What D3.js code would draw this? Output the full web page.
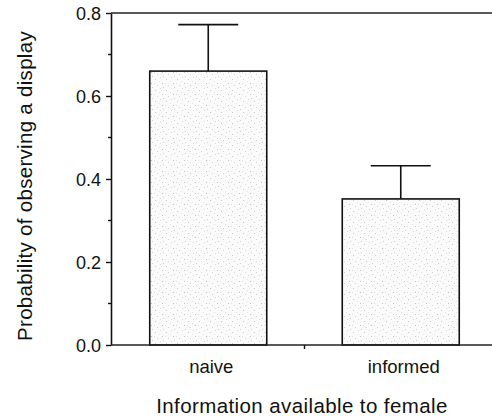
<!DOCTYPE html>
<html>
<head>
<meta charset="utf-8">
<script src="https://cdn.jsdelivr.net/npm/d3@7"></script>
<style>
  body { margin: 0; background: #fff; }
  text { font-family: "Liberation Sans", Arial, sans-serif; fill: #111; }
</style>
</head>
<body>
<svg id="chart" width="492" height="416"></svg>
<script>
'use strict';

// data
var categories = ['naive', 'informed'];
var means = [0.660, 0.352];
var errUpper = [0.772, 0.432];
var yTicks = [0.0, 0.2, 0.4, 0.6, 0.8];
var yMinorTicks = [0.1, 0.3, 0.5, 0.7];

var svg = d3.select('#chart');

var plotLeft = 111, plotRight = 497, plotTop = 13, plotBottom = 345;

var x = d3.scalePoint()
  .domain(categories)
  .range([plotLeft + 1, plotRight])
  .padding(0.5);

var y = d3.scaleLinear()
  .domain([0, 0.8])
  .range([plotBottom, plotTop]);

var barWidth = 117;
var capWidth = 60;

// stipple fill (light, sparse dots like the scan)
var defs = svg.append('defs');
var pat = defs.append('pattern')
  .attr('id', 'stipple')
  .attr('patternUnits', 'userSpaceOnUse')
  .attr('width', 11).attr('height', 11);
pat.append('rect').attr('width', 11).attr('height', 11).attr('fill', '#fafafa');
var dots = [[1, 2, '#cdcdcd'], [6, 0, '#dcdcdc'], [8, 6, '#c4c4c4'], [3, 8, '#d6d6d6'], [0, 6, '#e2e2e2'], [9, 10, '#d2d2d2'], [5, 4, '#e6e6e6']];
pat.selectAll('rect.dot').data(dots).enter().append('rect')
  .attr('class', 'dot')
  .attr('x', function(d){ return d[0]; })
  .attr('y', function(d){ return d[1]; })
  .attr('width', 1).attr('height', 1)
  .attr('fill', function(d){ return d[2]; });

// error bars (behind the bars)
var err = svg.append('g').attr('stroke', '#111').attr('stroke-width', 1.6);
categories.forEach(function(c, i){
  err.append('line')
    .attr('x1', x(c)).attr('x2', x(c))
    .attr('y1', y(means[i])).attr('y2', y(errUpper[i]));
  err.append('line')
    .attr('x1', x(c) - capWidth / 2).attr('x2', x(c) + capWidth / 2)
    .attr('y1', y(errUpper[i])).attr('y2', y(errUpper[i]));
});

// bars
svg.selectAll('rect.bar')
  .data(means)
  .enter().append('rect')
  .attr('class', 'bar')
  .attr('x', function(d, i){ return x(categories[i]) - barWidth / 2; })
  .attr('y', function(d){ return y(d); })
  .attr('width', barWidth)
  .attr('height', function(d){ return y(0) - y(d); })
  .attr('fill', 'url(#stipple)')
  .attr('stroke', '#111')
  .attr('stroke-width', 1.6);

// y axis
var yAxis = d3.axisLeft(y)
  .tickValues(yTicks)
  .tickFormat(d3.format('.1f'))
  .tickSize(5)
  .tickSizeOuter(0);
var gy = svg.append('g')
  .attr('transform', 'translate(' + plotLeft + ',0)')
  .call(yAxis);
gy.select('.domain').attr('stroke', '#111').attr('stroke-width', 1.6);
gy.selectAll('.tick line').attr('stroke', '#111').attr('stroke-width', 1.4);
gy.selectAll('.tick text')
  .attr('x', -10)
  .attr('dy', '0.36em')
  .style('font-size', '18px')
  .style('font-family', '"Liberation Sans", Arial, sans-serif')
  .attr('fill', '#111');

svg.append('g')
  .selectAll('line')
  .data(yMinorTicks)
  .enter().append('line')
  .attr('x1', plotLeft - 3).attr('x2', plotLeft)
  .attr('y1', function(d){ return y(d); })
  .attr('y2', function(d){ return y(d); })
  .attr('stroke', '#111').attr('stroke-width', 1.4);

// frame: top and bottom lines
svg.append('line')
  .attr('x1', plotLeft).attr('x2', 492)
  .attr('y1', y(0.8)).attr('y2', y(0.8))
  .attr('stroke', '#222').attr('stroke-width', 1.6);
svg.append('line')
  .attr('x1', plotLeft).attr('x2', 492)
  .attr('y1', y(0)).attr('y2', y(0))
  .attr('stroke', '#222').attr('stroke-width', 1.6);

// tick between categories
var mid = (x(categories[0]) + x(categories[1])) / 2;
svg.append('line')
  .attr('x1', mid).attr('x2', mid)
  .attr('y1', y(0)).attr('y2', y(0) + 4)
  .attr('stroke', '#111').attr('stroke-width', 1.4);

// category labels
svg.selectAll('text.cat')
  .data(categories)
  .enter().append('text')
  .attr('class', 'cat')
  .attr('x', function(d){ return x(d) + 3; })
  .attr('y', 373)
  .attr('text-anchor', 'middle')
  .style('font-size', '18.5px')
  .text(function(d){ return d; });

// axis titles
svg.append('text')
  .attr('x', 302)
  .attr('y', 413)
  .attr('text-anchor', 'middle')
  .style('font-size', '20.5px')
  .style('letter-spacing', '0.4px')
  .text('Information available to female');

svg.append('text')
  .attr('transform', 'translate(32,186) rotate(-90)')
  .attr('text-anchor', 'middle')
  .style('font-size', '20.5px')
  .style('letter-spacing', '0.3px')
  .text('Probability of observing a display');
</script>
</body>
</html>
